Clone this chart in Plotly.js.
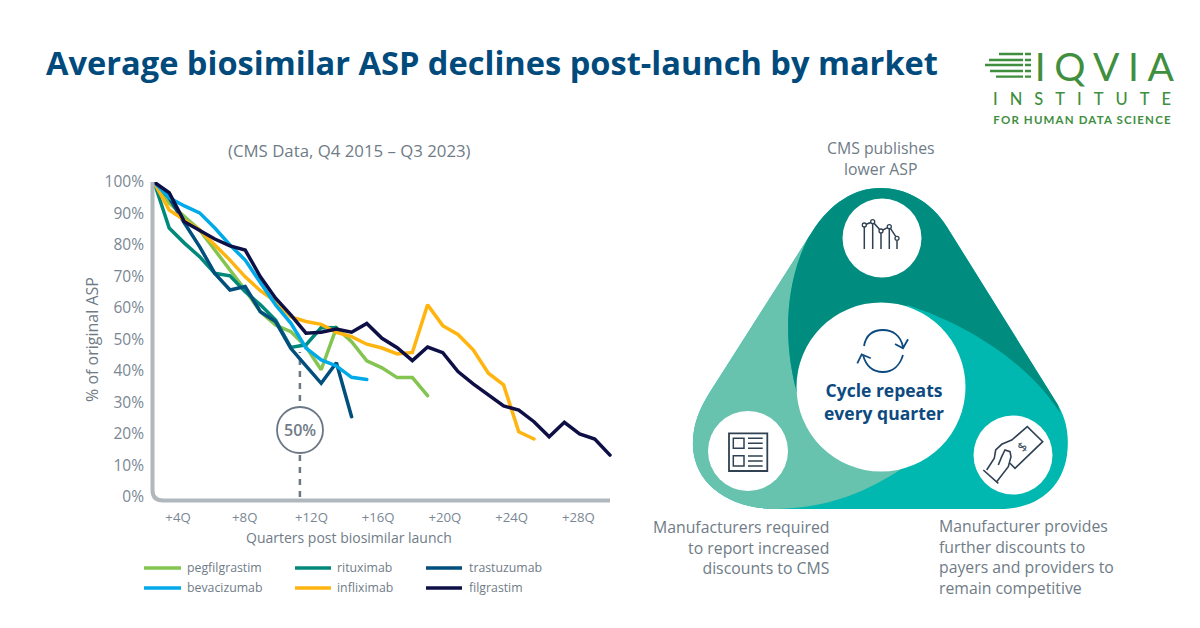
<!DOCTYPE html>
<html><head><meta charset="utf-8">
<script src="https://cdn.plot.ly/plotly-3.0.1.min.js"></script>
<style>
html,body{margin:0;padding:0;background:#fff}
#chart{width:1200px;height:628px}
.scatterlayer .js-line{stroke-linecap:round}
.annotation[data-index="0"] text{letter-spacing:8.5px}
.annotation[data-index="1"] text{letter-spacing:12px}
.annotation[data-index="2"] text{letter-spacing:1.15px}
</style></head><body><div id="chart"></div>
<script>
const quarters=[0,1,2,3,4,5,6,7,8,9,10,11,12,13,14,15,16,17,18,19,20,21,22,23,24,25,26,27,28,29,30];
const pegfilgrastim=[100,93.3,89,84.8,78.4,72,65.7,58.8,54.6,52.5,47.7,40.4,53.7,49.3,43.2,41,37.9,37.9,32.2];
const rituximab=[100,85.4,80.6,76.3,71,70.2,65.2,61,56.2,47.5,48.3,53.8,53.7];
const trastuzumab=[100,95,87,79.5,71,65.7,66.8,58.8,55.7,47.2,41.6,36.1,42.6,25.5];
const bevacizumab=[100,95,92.4,90.2,85.4,80,75.2,67.9,61,55.2,47.3,43.5,41.6,38,37.3];
const infliximab=[100,91.1,87.9,84.8,80,75.2,69.9,65.5,62,57.2,55.7,54.8,52.3,50.9,48.5,47.3,45.4,45.9,61,54.4,51.6,46.7,39.3,35.6,20.7,18.4];
const filgrastim=[100,96.6,87.4,84.8,81.9,79.7,78.4,69.9,63.1,57.8,52,52.3,53.3,52.3,55.1,50.4,47.4,43.3,47.6,45.8,39.8,35.9,32.4,28.9,27.6,23.9,19.1,23.7,20,18.4,13.3];
const seriesNames=['pegfilgrastim','rituximab','trastuzumab','infliximab','bevacizumab','filgrastim'];
const seriesValues=[pegfilgrastim,rituximab,trastuzumab,infliximab,bevacizumab,filgrastim];
const seriesColors=['#84c450','#00897b','#004f7c','#ffb40f','#00a9e8','#0e0f45'];
const yTicks=[0,10,20,30,40,50,60,70,80,90,100];
const yTickLabels=['0%','10%','20%','30%','40%','50%','60%','70%','80%','90%','100%'];
const xTickLabels=['+4Q','+8Q','+12Q','+16Q','+20Q','+24Q','+28Q'];
const xTickPositions=[1.58,5.97,10.36,14.75,19.14,23.53,27.92];
const legendRows=[['pegfilgrastim','rituximab','trastuzumab'],['bevacizumab','infliximab','filgrastim']];

const GREY='#6f7c87', INK='#2f4152', NAVY='#0d4a80', GREEN='#3f8f3f';
const canvasRef={xref:'x2',yref:'y2'};
const path=(d,o)=>Object.assign({type:'path',path:d,layer:'above',line:{width:0}},canvasRef,o);
const stroke=(d,c,w)=>path(d,{line:{color:c,width:w}});
const fill=(d,c)=>path(d,{fillcolor:c});
const circle=(cx,cy,r,o)=>Object.assign({type:'circle',x0:cx-r,x1:cx+r,y0:cy-r,y1:cy+r,layer:'above',fillcolor:'#fff',line:{width:0}},canvasRef,o||{});

const outer='M880 188C905 188 930 200 947 227L1058 405C1068 422 1069 440 1067 455C1062 490 1035 509 1000 509L777 509C730 509 695 485 693 447C692 425 700 408 710 392L812 232C830 203 855 188 880 188Z';
const lightPart='M808 238L710 392C700 408 692 425 693 447C695 485 730 509 777 509C830 508 870 490 903 468L881 387L797 393C785 350 782 290 808 238Z';
const darkPart='M808 238L812 232C830 203 855 188 880 188C905 188 930 200 947 227L1058 405L1060 413C1030 365 970 325 907 305L881 387L797 393C785 350 782 290 808 238Z';

const shapes=[
 {type:'line',xref:'x',yref:'y',x0:9.6,x1:9.6,y0:0,y1:46,layer:'below',line:{color:'#6b7785',width:2.5,dash:'6px,6px'}},
 stroke('M152.5 182L152.5 490Q152.5 500.5 163 500.5L610 500.5','#b0b7bd',4),
 circle(300,430,23,{line:{color:'#6b7785',width:1.8}}),
 fill(outer,'#00b8b0'),fill(lightPart,'#68c3ae'),fill(darkPart,'#008c7e'),
 circle(881,387,84.5),circle(882,238,39.5),circle(748,451,40),circle(1013,455,39.5),
 stroke('M864.3 225L872.7 221.7L881 231L889.3 226.7L897 238.3',INK,1.5),
 stroke('M864.3 227V249M872.7 224V249M881 233V249M889.3 229V249M897 241V249',INK,1.5),
 circle(864.3,225,2,{line:{color:INK,width:1.3}}),circle(872.7,221.7,2,{line:{color:INK,width:1.3}}),circle(881,231,2,{line:{color:INK,width:1.3}}),circle(889.3,226.7,2,{line:{color:INK,width:1.3}}),circle(897,238.3,2,{line:{color:INK,width:1.3}}),
 stroke('M729 433.3H767.3V471H729Z',INK,1.8),
 stroke('M733.3 438.3H744V448.3H733.3ZM733.3 455.7H744V466H733.3Z',INK,1.5),
 stroke('M748 438.3H762.7M748 443.3H762.7M748 448.3H762.7M748 456H762.7M748 461H762.7M748 466H762.7',INK,1.5),
 stroke('M864 346C866 335 873 330 883 330C893 330 901 336 903 347M895 344L903 348.3L908 339.3',NAVY,1.8),
 stroke('M903 355C900 365 893 372 883 372C873 372 866 366 863 355M870.7 358.3L861.7 354.3L857.3 363.3',NAVY,1.8),
 stroke('M983.3 470L998.3 483.3M986.7 470L994.3 458.3L995.7 450L1001.7 444.3L1011.7 440L1027.3 426.7L1042.7 441.7L1015 468.3L1010 463.3M996.7 481.7L1008.3 466.7L1011 456.7L1010 451.7L1005 450L1001.7 456.7L998.3 465',INK,1.6),
 stroke('M999 54H1023M989 60H1023M985 65H1023M990 71H1023M996 76.7H1023',GREEN,2.3),
 stroke('M1025 54H1031M1025 60H1031M1025 65H1031M1025 71H1031M1025 76.7H1031',GREEN,2.3)
];
const ann=(text,x,y,size,color,o)=>Object.assign({text,x,y,xref:'x2',yref:'y2',showarrow:false,xanchor:'center',yanchor:'middle',align:'center',font:{family:'"Open Sans"',size,color}},o||{});
const annotations=[
 ann('IQVIA',1108.5,66,39,GREEN,{font:{family:'Lato',size:39,color:GREEN,weight:400}}),
 ann('INSTITUTE',1088,99,16.5,GREEN,{font:{family:'Lato',size:16.5,color:GREEN,weight:500}}),
 ann('FOR HUMAN DATA SCIENCE',1082.5,119,11.5,GREEN,{font:{family:'Lato',size:11.5,color:GREEN,weight:700}}),
 ann('(CMS Data, Q4 2015 – Q3 2023)',349,150,16.8,GREY),
 ann('50%',300,430,16,GREY,{font:{family:'"Open Sans"',size:16,color:GREY,weight:600}}),
 ann('CMS publishes<br>lower ASP',881,158,15.8,GREY),
 ann('Manufacturers required<br>to report increased<br>discounts to CMS',831,547,15.8,GREY,{xanchor:'right',align:'right'}),
 ann('Manufacturer provides<br>further discounts to<br>payers and providers to<br>remain competitive',937,557,15.8,GREY,{xanchor:'left',align:'left'}),
 ann('Cycle repeats<br>every quarter',884,401,17.5,NAVY,{font:{family:'"Open Sans"',size:17.5,color:NAVY,weight:700}}),
 ann('$',1021.5,446.5,13,INK,{textangle:-45}),
 ann('Quarters post biosimilar launch',349,537,14,GREY)
];
const legendLineX=[[144,181],[295,331],[426,462]], legendTextX=[185,335,467], legendY=[568,588];
legendRows.forEach((row,r)=>row.forEach((name,c)=>{
 const col=seriesColors[seriesNames.indexOf(name)];
 shapes.push(stroke(`M${legendLineX[c][0]} ${legendY[r]}L${legendLineX[c][1]} ${legendY[r]}`,col,3.5));
 annotations.push(ann(name,legendTextX[c],legendY[r]-1,12.3,GREY,{xanchor:'left'}));
}));

const traces=seriesNames.map((n,i)=>({type:'scatter',mode:'lines',name:n,x:quarters.slice(0,seriesValues[i].length),y:seriesValues[i],xaxis:'x',yaxis:'y',line:{color:seriesColors[i],width:3.5,shape:'linear'},hoverinfo:'name+y',cliponaxis:false}));

const layout={
 width:1200,height:628,margin:{l:0,r:0,t:0,b:0,pad:0},paper_bgcolor:'#fff',plot_bgcolor:'rgba(0,0,0,0)',showlegend:false,
 title:{text:'<b>Average biosimilar ASP declines post-launch by market</b>',x:46/1200,xref:'paper',xanchor:'left',y:1-64/628,yref:'paper',yanchor:'middle',font:{family:'"Open Sans"',size:32.6,color:'#004a7c'}},
 xaxis:{domain:[154/1200,620/1200],range:[0,30.66],anchor:'y',showgrid:false,zeroline:false,showline:false,tickmode:'array',tickvals:xTickPositions,ticktext:xTickLabels,ticks:'',ticklabelstandoff:11,tickfont:{family:'"Open Sans"',size:13.2,color:'#7a8794'}},
 yaxis:{domain:[131/628,446/628],range:[0,100],anchor:'x',showgrid:false,zeroline:false,showline:false,tickmode:'array',tickvals:yTicks,ticktext:yTickLabels,ticks:'',ticklabelstandoff:9,tickfont:{family:'"Open Sans"',size:15.5,color:'#7a8794'},title:{text:'% of original ASP',standoff:1,font:{family:'"Open Sans"',size:16,color:GREY}}},
 xaxis2:{domain:[0,1],range:[0,1200],anchor:'y2',visible:false,fixedrange:true},
 yaxis2:{domain:[0,1],range:[628,0],anchor:'x2',visible:false,fixedrange:true},
 shapes,annotations
};
Plotly.newPlot('chart',traces,layout,{displayModeBar:false,responsive:false});
</script></body></html>
